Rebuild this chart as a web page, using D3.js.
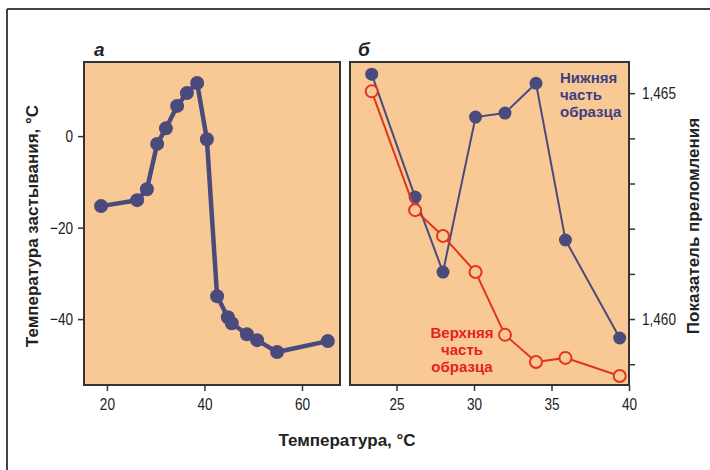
<!DOCTYPE html>
<html>
<head>
<meta charset="utf-8">
<script src="https://cdn.jsdelivr.net/npm/d3@7"></script>
<style>
  body { margin: 0; background: #fff; }
  svg text { font-family: "Liberation Sans", Arial, sans-serif; }
  .tick text { font-size: 17px; fill: #222; }
  .lbl { font-weight: bold; font-size: 17px; fill: #222; }
</style>
</head>
<body>
<svg width="710" height="470"></svg>
<script>
// panel a: pour point vs temperature
var tempA = [18.8, 26.2, 28.2, 30.3, 32.1, 34.4, 36.4, 38.5, 40.5, 42.6, 44.8, 45.6, 48.7, 50.8, 54.9, 65.3];
var pourA = [-15.3, -14.0, -11.6, -1.7, 1.7, 6.6, 9.4, 11.6, -0.7, -35.0, -39.6, -40.9, -43.3, -44.6, -47.2, -44.8];
var ticksAx = [20, 40, 60];
var ticksAy = [0, -20, -40];

// panel б: refractive index, lower and upper part of sample
var tempB = [23.4, 26.2, 28.0, 30.1, 32.0, 34.0, 35.9, 39.4];
var lowerB = [1.46542, 1.46270, 1.46104, 1.46447, 1.46456, 1.46522, 1.46175, 1.45958];
var upperB = [1.46504, 1.46241, 1.46184, 1.46104, 1.45965, 1.45905, 1.45914, 1.45874];
var ticksBx = [25, 30, 35, 40];
var ticksBy = [1.459, 1.460, 1.461, 1.462, 1.463, 1.464, 1.465];
var labelsBy = { "1.46": "1,460", "1.465": "1,465" };

var peach = "#f8c994", navy = "#4a4a7c", red = "#e0351f";

var svg = d3.select("svg");

// outer frame lines
svg.append("line").attr("x1", 7).attr("y1", 9).attr("x2", 710).attr("y2", 9)
    .attr("stroke", "#444").attr("stroke-width", 2);
svg.append("line").attr("x1", 7).attr("y1", 9).attr("x2", 7).attr("y2", 470)
    .attr("stroke", "#444").attr("stroke-width", 2);

var pTop = 62, pBottom = 385;

// narrow tick labels (the original uses a condensed face)
function squeeze(g) {
    g.select(".domain").remove();
    g.selectAll(".tick text").each(function() {
        var t = d3.select(this);
        var x = +t.attr("x") || 0;
        t.attr("x", x / 0.8).attr("transform", "scale(0.8,1)");
    });
}

// ---- panel a
var xA = d3.scaleLinear().domain([15.3, 67.8]).range([84, 340]);
var yA = d3.scaleLinear().domain([-54.4, 16.2]).range([pBottom, pTop]);

svg.append("rect").attr("x", 84).attr("y", pTop).attr("width", 256).attr("height", pBottom - pTop)
    .attr("fill", peach).attr("stroke", "#333").attr("stroke-width", 2);

svg.append("g").attr("transform", "translate(0," + pBottom + ")")
    .call(d3.axisBottom(xA).tickValues(ticksAx).tickSize(6).tickPadding(7).tickSizeOuter(0))
    .call(squeeze);
svg.append("g").attr("transform", "translate(84,0)")
    .call(d3.axisLeft(yA).tickValues(ticksAy).tickSize(6).tickPadding(5).tickSizeOuter(0))
    .call(squeeze);

var dataA = tempA.map(function(t, i) { return [t, pourA[i]]; });
svg.append("path").datum(dataA)
    .attr("d", d3.line().x(function(d) { return xA(d[0]); }).y(function(d) { return yA(d[1]); }))
    .attr("fill", "none").attr("stroke", navy).attr("stroke-width", 4.5).attr("stroke-linejoin", "round");
svg.selectAll(".dotA").data(dataA).enter().append("circle")
    .attr("cx", function(d) { return xA(d[0]); })
    .attr("cy", function(d) { return yA(d[1]); })
    .attr("r", 7).attr("fill", navy);

// ---- panel б
var xB = d3.scaleLinear().domain([22, 40]).range([350, 629]);
var yB = d3.scaleLinear().domain([1.45854, 1.46569]).range([pBottom, pTop]);

svg.append("rect").attr("x", 350).attr("y", pTop).attr("width", 279).attr("height", pBottom - pTop)
    .attr("fill", peach).attr("stroke", "#333").attr("stroke-width", 2);

svg.append("g").attr("transform", "translate(0," + pBottom + ")")
    .call(d3.axisBottom(xB).tickValues(ticksBx).tickSize(6).tickPadding(7).tickSizeOuter(0))
    .call(squeeze);
svg.append("g").attr("transform", "translate(629,0)")
    .call(d3.axisRight(yB).tickValues(ticksBy).tickSize(6).tickPadding(7).tickSizeOuter(0)
        .tickFormat(function(d) { return labelsBy[String(+d.toFixed(3))] || ""; }))
    .call(squeeze);

var lineB = d3.line().x(function(d) { return xB(d[0]); }).y(function(d) { return yB(d[1]); });
var lower = tempB.map(function(t, i) { return [t, lowerB[i]]; });
var upper = tempB.map(function(t, i) { return [t, upperB[i]]; });

svg.append("path").datum(lower).attr("d", lineB)
    .attr("fill", "none").attr("stroke", navy).attr("stroke-width", 2);
svg.selectAll(".dotL").data(lower).enter().append("circle")
    .attr("cx", function(d) { return xB(d[0]); })
    .attr("cy", function(d) { return yB(d[1]); })
    .attr("r", 6.5).attr("fill", navy);

svg.append("path").datum(upper).attr("d", lineB)
    .attr("fill", "none").attr("stroke", red).attr("stroke-width", 2);
svg.selectAll(".dotU").data(upper).enter().append("circle")
    .attr("cx", function(d) { return xB(d[0]); })
    .attr("cy", function(d) { return yB(d[1]); })
    .attr("r", 6).attr("fill", peach).attr("stroke", red).attr("stroke-width", 2);

svg.selectAll(".tick line").attr("stroke", "#333").attr("stroke-width", 1.5);

// series labels
var lowTxt = svg.append("text").attr("class", "lbl").attr("x", 560).attr("y", 83)
    .style("fill", "#3e3e82").style("font-size", "15px");
["Нижняя", "часть", "образца"].forEach(function(s, i) {
    lowTxt.append("tspan").attr("x", 560).attr("dy", i ? 17 : 0).text(s);
});
var upTxt = svg.append("text").attr("class", "lbl").attr("x", 462).attr("y", 338)
    .attr("text-anchor", "middle").style("fill", "#e8201c").style("font-size", "15px");
["Верхняя", "часть", "образца"].forEach(function(s, i) {
    upTxt.append("tspan").attr("x", 462).attr("dy", i ? 17 : 0).text(s);
});

// panel letters
svg.append("text").attr("class", "lbl").attr("x", 94).attr("y", 56)
    .style("font-style", "italic").style("font-size", "19px").text("а");
svg.append("text").attr("class", "lbl").attr("x", 358).attr("y", 56)
    .style("font-style", "italic").style("font-size", "19px").text("б");

// axis titles
svg.append("text").attr("class", "lbl").attr("text-anchor", "middle")
    .attr("transform", "translate(38,226) rotate(-90)").text("Температура застывания, °C");
svg.append("text").attr("class", "lbl").attr("text-anchor", "middle")
    .attr("transform", "translate(699,226) rotate(-90)").text("Показатель преломления");
svg.append("text").attr("class", "lbl").attr("text-anchor", "middle")
    .attr("x", 347).attr("y", 446).text("Температура, °C");
</script>
</body>
</html>
